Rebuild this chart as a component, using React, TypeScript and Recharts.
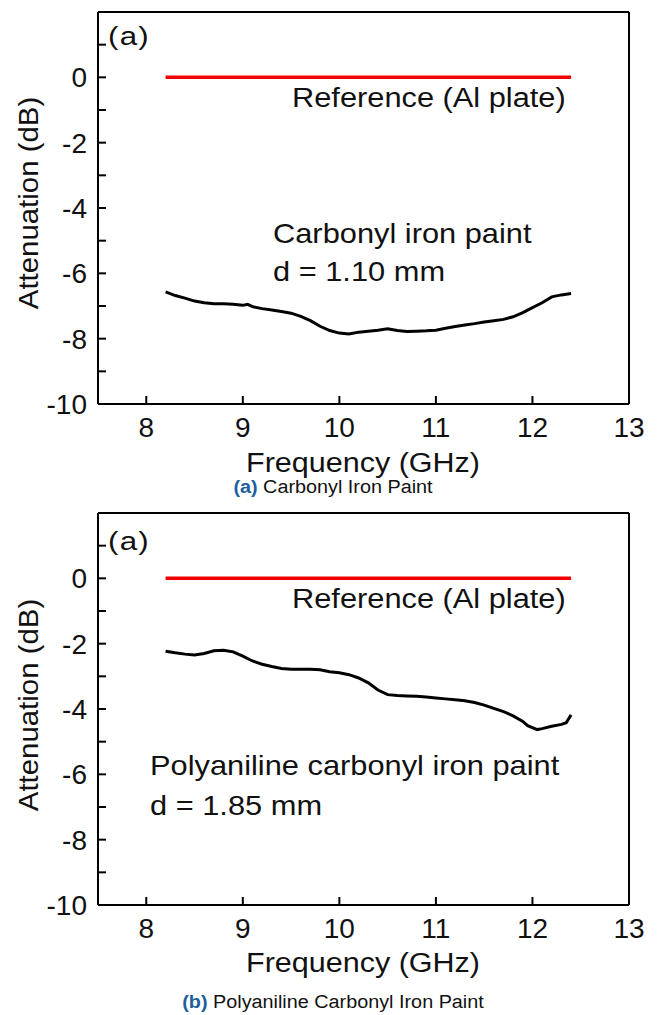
import React from "react";
import { LineChart, Line, XAxis, YAxis } from "recharts";

// axis ticks
const majorFreq = [8, 9, 10, 11, 12, 13];
const minorFreq = [8.5, 9.5, 10.5, 11.5, 12.5];
const attTicks = [-10, -9, -8, -7, -6, -5, -4, -3, -2, -1, 0, 1, 2];

// reference (Al plate)
const refFreq = [8.2, 12.4];
const refAtt = [0, 0];

// (a) carbonyl iron paint, d = 1.10 mm
const freqA = [8.2, 8.3, 8.4, 8.5, 8.6, 8.7, 8.8, 8.9, 9.0, 9.05, 9.1, 9.2, 9.3, 9.4, 9.5, 9.6, 9.7, 9.8, 9.9, 10.0, 10.1, 10.2, 10.3, 10.4, 10.5, 10.6, 10.7, 10.8, 10.9, 11.0, 11.1, 11.2, 11.3, 11.4, 11.5, 11.6, 11.7, 11.8, 11.9, 12.0, 12.1, 12.2, 12.3, 12.4];
const attA = [-6.57, -6.68, -6.76, -6.85, -6.9, -6.93, -6.93, -6.95, -6.98, -6.95, -7.02, -7.08, -7.12, -7.17, -7.22, -7.32, -7.45, -7.62, -7.75, -7.83, -7.86, -7.8, -7.77, -7.74, -7.7, -7.75, -7.78, -7.77, -7.76, -7.74, -7.68, -7.63, -7.58, -7.54, -7.49, -7.45, -7.41, -7.33, -7.2, -7.05, -6.9, -6.72, -6.66, -6.62];

// (b) polyaniline carbonyl iron paint, d = 1.85 mm
const freqB = [8.2, 8.3, 8.4, 8.5, 8.6, 8.7, 8.8, 8.9, 9.0, 9.1, 9.2, 9.3, 9.4, 9.5, 9.6, 9.7, 9.8, 9.9, 10.0, 10.1, 10.2, 10.3, 10.4, 10.5, 10.6, 10.7, 10.8, 10.9, 11.0, 11.1, 11.2, 11.3, 11.4, 11.5, 11.6, 11.7, 11.8, 11.9, 11.95, 12.05, 12.1, 12.2, 12.3, 12.35, 12.4];
const attB = [-2.23, -2.28, -2.32, -2.35, -2.3, -2.22, -2.2, -2.25, -2.38, -2.53, -2.63, -2.7, -2.76, -2.78, -2.78, -2.78, -2.8, -2.86, -2.89, -2.95, -3.05, -3.2, -3.42, -3.56, -3.59, -3.6, -3.61, -3.63, -3.66, -3.69, -3.72, -3.75, -3.8, -3.88, -3.98, -4.08, -4.21, -4.38, -4.51, -4.63, -4.6, -4.53, -4.47, -4.42, -4.18];

const FONT = '"Liberation Sans", Arial, sans-serif';
const INK = "#111";

const rows = (xs: number[], ys: number[]) => xs.map((f, i) => ({ f, a: ys[i] }));

type TxtProps = {
  x: number;
  base: number;
  size: number;
  sx?: number;
  center?: boolean;
  children: React.ReactNode;
  style?: React.CSSProperties;
};

function Txt({ x, base, size, sx = 1.1, center, children, style }: TxtProps) {
  return (
    <div
      style={{
        position: "absolute",
        left: x,
        top: base - 0.8465 * size,
        fontSize: size,
        lineHeight: `${size}px`,
        fontFamily: FONT,
        color: INK,
        whiteSpace: "nowrap",
        transformOrigin: center ? "center" : "left center",
        transform: center ? `translateX(-50%) scaleX(${sx})` : `scaleX(${sx})`,
        ...style,
      }}
    >
      {children}
    </div>
  );
}

const axisLine = { stroke: "#000", strokeWidth: 2 };
const tickLine = { stroke: "#000", strokeWidth: 2 };
const tickFont = { fill: INK, fontSize: 28, fontFamily: FONT };

type PanelProps = {
  top: number;
  series: { f: number; a: number }[];
  notes: { text: string; x: number; base: number }[];
  tagBase: number;
  capTag: string;
  capText: string;
  capBase: number;
  xTitleBase: number;
  yTitleY: number;
};

function Panel({ top, series, notes, tagBase, capTag, capText, capBase, xTitleBase, yTitleY }: PanelProps) {
  const ref = rows(refFreq, refAtt);
  return (
    <div style={{ position: "absolute", left: 0, top, width: 659, height: 510 }}>
      <LineChart width={659} height={500} margin={{ top: 10, right: 29, bottom: 94, left: 97 }}>
        <XAxis
          xAxisId="main"
          type="number"
          dataKey="f"
          domain={[7.5, 13]}
          allowDataOverflow
          ticks={majorFreq}
          interval={0}
          height={1}
          tickSize={-8}
          tickMargin={21}
          axisLine={axisLine}
          tickLine={tickLine}
          tick={tickFont}
        />
        <XAxis
          xAxisId="minor"
          type="number"
          dataKey="f"
          domain={[7.5, 13]}
          allowDataOverflow
          ticks={minorFreq}
          interval={0}
          height={1}
          tickSize={-6}
          axisLine={false}
          tickLine={tickLine}
          tick={false}
        />
        <XAxis
          xAxisId="top"
          orientation="top"
          type="number"
          dataKey="f"
          domain={[7.5, 13]}
          allowDataOverflow
          ticks={majorFreq}
          interval={0}
          height={1}
          tickSize={-8}
          axisLine={axisLine}
          tickLine={tickLine}
          tick={false}
        />
        <XAxis
          xAxisId="topMinor"
          orientation="top"
          type="number"
          dataKey="f"
          domain={[7.5, 13]}
          allowDataOverflow
          ticks={minorFreq}
          interval={0}
          height={1}
          tickSize={-6}
          axisLine={false}
          tickLine={tickLine}
          tick={false}
        />
        <YAxis
          yAxisId="main"
          type="number"
          domain={[-10, 2]}
          allowDataOverflow
          ticks={attTicks}
          interval={0}
          width={1}
          tickSize={-8}
          tickMargin={19}
          axisLine={axisLine}
          tickLine={tickLine}
          tick={tickFont}
          tickFormatter={(v: number) => (v % 2 === 0 && v <= 0 ? String(v) : "")}
        />
        <YAxis
          yAxisId="right"
          orientation="right"
          type="number"
          domain={[-10, 2]}
          allowDataOverflow
          ticks={attTicks}
          interval={0}
          width={1}
          tickSize={-5}
          axisLine={axisLine}
          tickLine={tickLine}
          tick={false}
        />
        <Line
          xAxisId="main"
          yAxisId="main"
          data={ref}
          dataKey="a"
          stroke="#f00000"
          strokeWidth={3.5}
          dot={false}
          isAnimationActive={false}
        />
        <Line
          xAxisId="main"
          yAxisId="main"
          data={series}
          dataKey="a"
          stroke="#000"
          strokeWidth={3}
          dot={false}
          isAnimationActive={false}
        />
      </LineChart>

      <Txt x={108} base={tagBase} size={25} sx={1.25} style={{ letterSpacing: 1 }}>(a)</Txt>
      <Txt x={292} base={108} size={27} sx={1.14}>Reference (Al plate)</Txt>
      {notes.map((n) => (
        <Txt key={n.text} x={n.x} base={n.base} size={28} sx={1.1}>{n.text}</Txt>
      ))}
      <Txt x={363} base={xTitleBase} size={27} sx={1.13} center>Frequency (GHz)</Txt>
      <div
        style={{
          position: "absolute",
          left: 29,
          top: yTitleY,
          fontSize: 28,
          lineHeight: "28px",
          fontFamily: FONT,
          color: INK,
          whiteSpace: "nowrap",
          transform: "translate(-50%, -50%) rotate(-90deg) scaleX(1.05)",
        }}
      >
        Attenuation (dB)
      </div>
      <Txt x={333} base={capBase} size={18} sx={1.1} center>
        <span style={{ fontWeight: "bold", color: "#1d5f9c" }}>{capTag}</span> {capText}
      </Txt>
    </div>
  );
}

export default function App() {
  return (
    <div style={{ position: "absolute", left: 0, top: 0, width: 659, height: 1015, background: "#fff" }}>
      <Panel
        top={0}
        series={rows(freqA, attA)}
        notes={[
          { text: "Carbonyl iron paint", x: 273, base: 244 },
          { text: "d = 1.10 mm", x: 273, base: 282 },
        ]}
        tagBase={45}
        capTag="(a)"
        capText="Carbonyl Iron Paint"
        capBase={493}
        xTitleBase={473}
        yTitleY={203}
      />
      <Panel
        top={501}
        series={rows(freqB, attB)}
        notes={[
          { text: "Polyaniline carbonyl iron paint", x: 150, base: 275 },
          { text: "d = 1.85 mm", x: 150, base: 315 },
        ]}
        tagBase={49}
        capTag="(b)"
        capText="Polyaniline Carbonyl Iron Paint"
        capBase={507}
        xTitleBase={472}
        yTitleY={204}
      />
    </div>
  );
}
